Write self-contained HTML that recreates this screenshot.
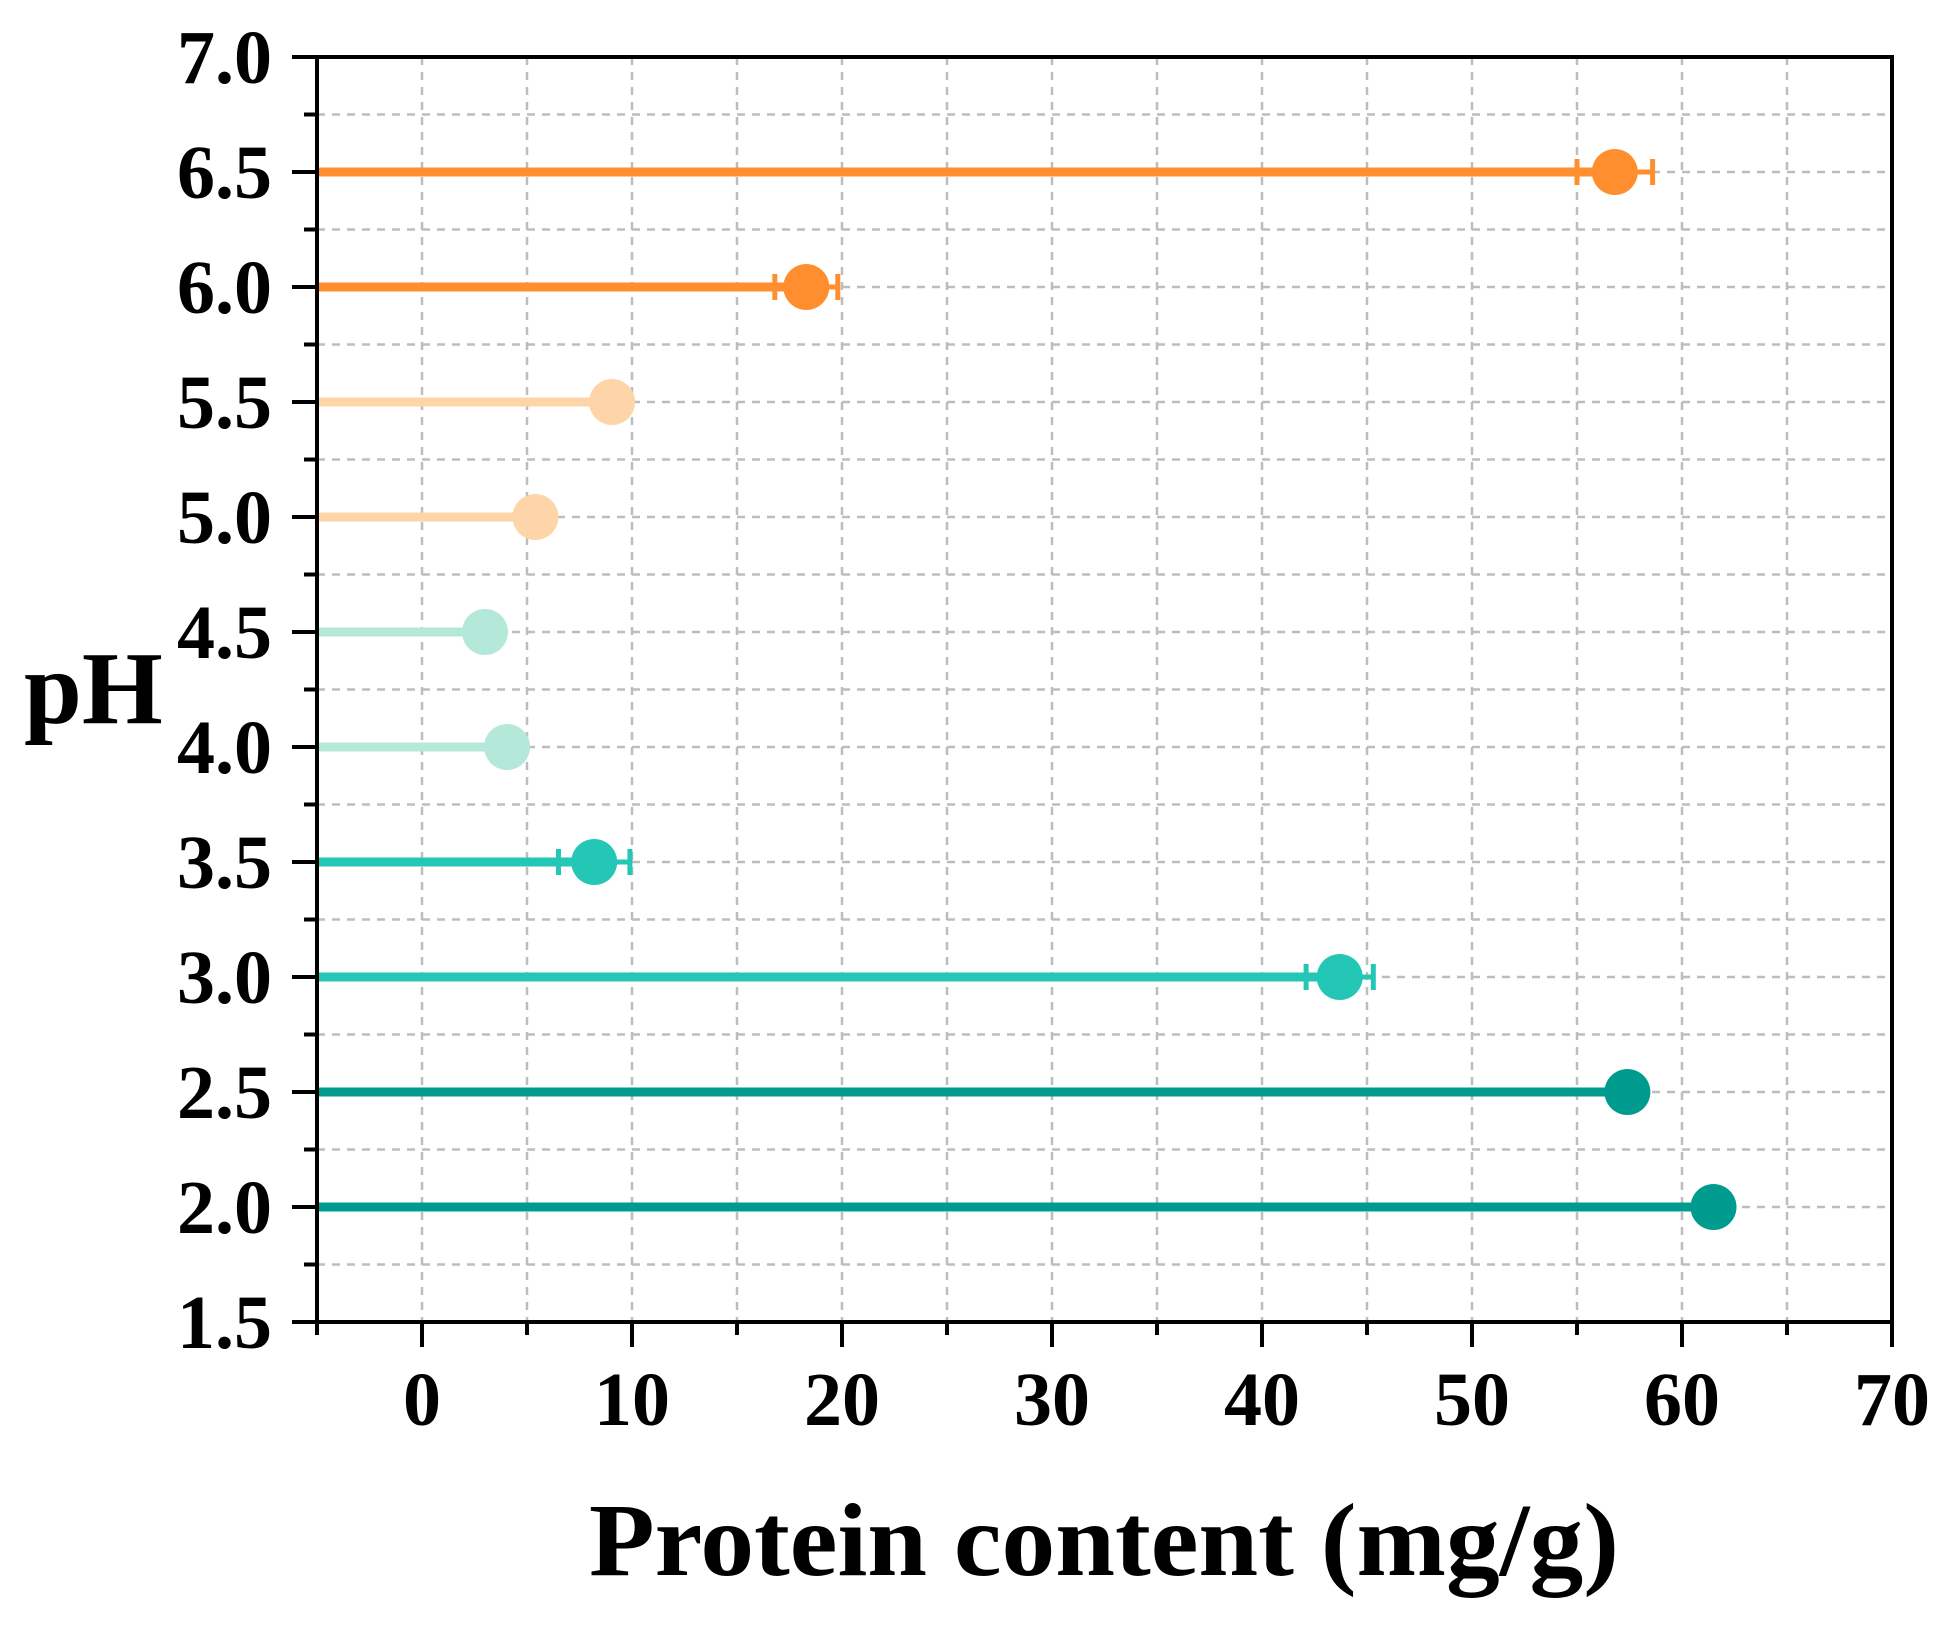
<!DOCTYPE html>
<html>
<head>
<meta charset="utf-8">
<style>
html,body{margin:0;padding:0;background:#fff;}
svg{display:block;}
text{font-family:"Liberation Serif","Times New Roman",serif;font-weight:bold;fill:#000;}
</style>
</head>
<body>
<svg id="chart" width="1943" height="1630" viewBox="0 0 1943 1630" xmlns="http://www.w3.org/2000/svg">
  <g id="grid"></g>
  <g id="series"></g>
  <g id="axes"></g>
  <text x="24" y="723" font-size="104">pH</text>
  <text x="589" y="1575" font-size="104" textLength="1030" lengthAdjust="spacingAndGlyphs">Protein content (mg/g)</text>
</svg>
<script>
const phLevels = [6.5, 6.0, 5.5, 5.0, 4.5, 4.0, 3.5, 3.0, 2.5, 2.0];
const proteinValues = [56.8, 18.3, 9.05, 5.4, 3.0, 4.05, 8.2, 43.7, 57.4, 61.5];
const errorValues = [1.8, 1.5, 0, 0, 0, 0, 1.7, 1.6, 0, 0];
const seriesColors = ["#FF8F2E","#FF8F2E","#FDD5A8","#FDD5A8","#B4E8D8","#B4E8D8","#24C6B6","#24C6B6","#009B8F","#009B8F"];
const xTickLabels = ["0","10","20","30","40","50","60","70"];
const yTickLabels = ["1.5","2.0","2.5","3.0","3.5","4.0","4.5","5.0","5.5","6.0","6.5","7.0"];

const X0=317, X1=1892, Y0=1322, Y1=57;
const XMIN=-5, XMAX=70, YMIN=1.5, YMAX=7.0;
function xs(v){return X0+(v-XMIN)/(XMAX-XMIN)*(X1-X0);}
function ys(v){return Y0-(v-YMIN)/(YMAX-YMIN)*(Y0-Y1);}
const NS="http://www.w3.org/2000/svg";
function mk(tag,attrs,parent){const e=document.createElementNS(NS,tag);for(const k in attrs)e.setAttribute(k,attrs[k]);parent.appendChild(e);return e;}

const grid=document.getElementById('grid');
for(let v=0; v<70; v+=5){
  const l=mk('line',{x1:xs(v),x2:xs(v),y1:Y1,y2:Y0,stroke:'#BDBDBD','stroke-width':2.5,'stroke-dasharray':'8,7'},grid);
  
  
}
for(let v=1.75; v<7.0; v+=0.25){
  const l=mk('line',{x1:X0,x2:X1,y1:ys(v),y2:ys(v),stroke:'#BDBDBD','stroke-width':2.5,'stroke-dasharray':'8,7'},grid);
  
  
}

const series=document.getElementById('series');
phLevels.forEach((ph,i)=>{
  const g=mk('g',{},series);
  
  
  const y=ys(ph), x=xs(proteinValues[i]), c=seriesColors[i];
  const stem=mk('line',{x1:X0,x2:x,y1:y,y2:y,stroke:c,'stroke-width':9},g);
  
  
  const e=errorValues[i];
  if(e>0){
    const xl=xs(proteinValues[i]-e), xr=xs(proteinValues[i]+e);
    const eb=mk('line',{x1:xl,x2:xr,y1:y,y2:y,stroke:c,'stroke-width':5},g);
    
    
    [xl,xr].forEach(xx=>{
      const cap=mk('line',{x1:xx,x2:xx,y1:y-13,y2:y+13,stroke:c,'stroke-width':5},g);
      
      
    });
  }
  const dot=mk('circle',{cx:x,cy:y,r:23,fill:c},g);
  
  
});

const axes=document.getElementById('axes');
const frame=mk('rect',{x:X0,y:Y1,width:X1-X0,height:Y0-Y1,fill:'none',stroke:'#000','stroke-width':4},axes);


for(let v=-5; v<=70; v+=5){
  const major=(v%10===0);
  const t=mk('line',{x1:xs(v),x2:xs(v),y1:Y0,y2:Y0+(major?25:13),stroke:'#000','stroke-width':4},axes);
  
  
}
xTickLabels.forEach((lab)=>{
  const t=mk('text',{x:xs(parseFloat(lab)),y:1425,'font-size':76,'text-anchor':'middle'},axes);
  t.textContent=lab;
  
  
});
for(let v=1.5; v<=7.001; v+=0.25){
  const major=(Math.abs(v*2-Math.round(v*2))<1e-6);
  const t=mk('line',{x1:X0-(major?25:13),x2:X0,y1:ys(v),y2:ys(v),stroke:'#000','stroke-width':4},axes);
  
  
}
yTickLabels.forEach((lab)=>{
  const t=mk('text',{x:272,y:ys(parseFloat(lab))+26,'font-size':76,'text-anchor':'end'},axes);
  t.textContent=lab;
  
  
});
</script>
</body>
</html>
